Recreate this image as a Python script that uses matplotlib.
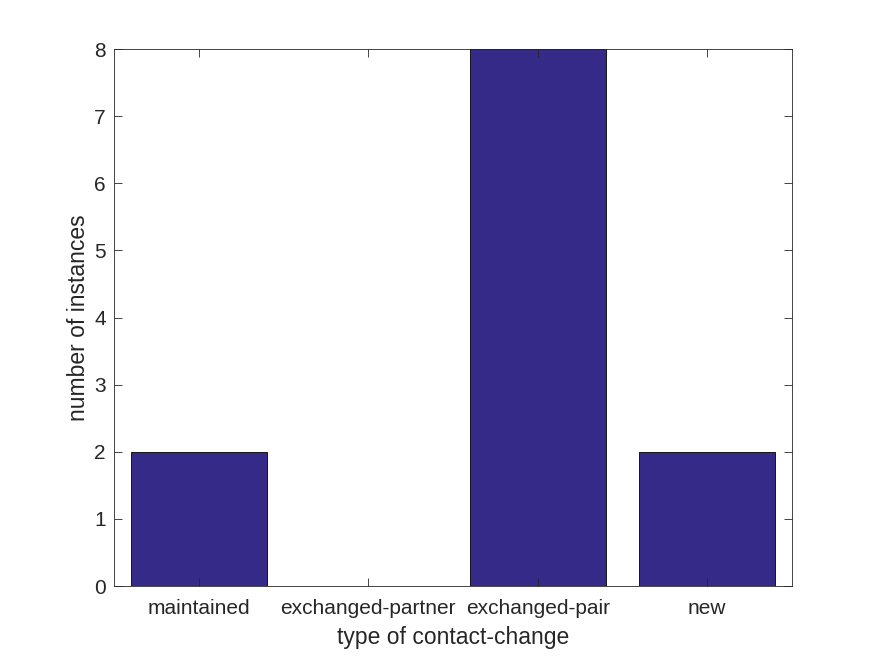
import numpy as np
import matplotlib
matplotlib.use("Agg")
import matplotlib.pyplot as plt

categories = ['maintained', 'exchanged-partner', 'exchanged-pair', 'new']
counts = [2, 0, 8, 2]

plt.rcParams['font.family'] = ['Liberation Sans', 'DejaVu Sans']

fig = plt.figure(figsize=(8.75, 6.56), dpi=100)
ax = fig.add_axes([0.1303, 0.1067, 0.7749, 0.8186])

x = np.arange(1, len(categories) + 1)
ax.bar(x, counts, width=0.8, color='#352a87', edgecolor='black', linewidth=0.6)

ax.set_xlim(0.5, 4.5)
ax.set_ylim(0, 8)
ax.set_xticks(x)
ax.set_xticklabels(categories)
ax.set_yticks(range(0, 9))
ax.tick_params(direction='in', top=True, right=True, labelsize=15,
               colors='#262626', length=6, width=0.6)
ax.tick_params(axis='x', pad=9)
ax.tick_params(axis='y', pad=6)
for s in ax.spines.values():
    s.set_linewidth(0.6)
    s.set_color('#262626')
ax.set_xlabel('type of contact-change', fontsize=16.5, color='#262626', labelpad=6)
ax.set_ylabel('number of instances', fontsize=16.5, color='#262626', labelpad=3)

fig.savefig('out.png', dpi=100)
